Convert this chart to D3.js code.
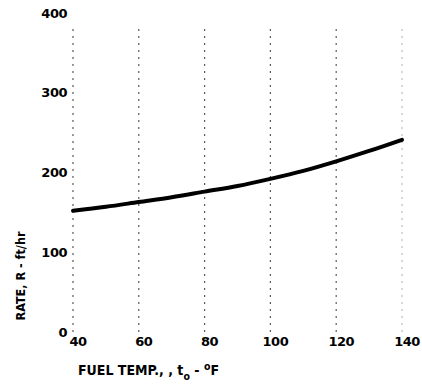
<!DOCTYPE html>
<html>
<head>
<meta charset="utf-8">
<script src="https://cdn.jsdelivr.net/npm/d3@7"></script>
<style>
  body { margin: 0; background: #fff; }
  svg { display: block; }
  text { font-family: "DejaVu Sans", sans-serif; font-weight: bold; fill: #000; }
  .title { font-family: "DejaVu Sans Condensed", "DejaVu Sans", sans-serif; font-stretch: condensed; }
</style>
</head>
<body>
<svg id="chart" width="422" height="385"></svg>
<script>
const temps = [40, 50, 60, 70, 80, 90, 100, 110, 120, 130, 140];
const rates = [152, 157, 163, 169, 176, 183, 192, 202, 214, 227, 241];
const xTicks = [40, 60, 80, 100, 120, 140];
const yTicks = [0, 100, 200, 300, 400];

const svg = d3.select("#chart");
const x = d3.scaleLinear().domain([40, 140]).range([73, 402]);
const y = d3.scaleLinear().domain([0, 400]).range([332, 13]);

// vertical dashed grid lines
svg.append("g").selectAll("line").data(xTicks).join("line")
  .attr("x1", d => x(d)).attr("x2", d => x(d))
  .attr("y1", y(0)).attr("y2", y(385))
  .attr("stroke", "#222")
  .attr("stroke-width", 1.2)
  .attr("stroke-opacity", d => d === 140 ? 0.3 : 0.75)
  .attr("stroke-dasharray", "2,5");

// y tick labels
svg.append("g").selectAll("text").data(yTicks).join("text")
  .attr("x", 67).attr("y", d => y(d))
  .attr("dy", "0.35em")
  .attr("text-anchor", "end")
  .attr("font-size", 13)
  .attr("letter-spacing", "-0.5")
  .text(d => d);

// x tick labels
svg.append("g").selectAll("text").data(xTicks).join("text")
  .attr("x", d => x(d) + 5).attr("y", 346)
  .attr("text-anchor", "middle")
  .attr("font-size", 13)
  .attr("letter-spacing", "-0.5")
  .text(d => d);

// curve
const line = d3.line().x((d, i) => x(temps[i])).y(d => y(d)).curve(d3.curveMonotoneX);
svg.append("path").datum(rates)
  .attr("d", line)
  .attr("fill", "none")
  .attr("stroke", "#000")
  .attr("stroke-width", 4)
  .attr("stroke-linecap", "round");

// axis titles
svg.append("text")
  .attr("class", "title")
  .attr("transform", "translate(25,276) rotate(-90)")
  .attr("text-anchor", "middle")
  .attr("font-size", 12.5)
  .text("RATE, R - ft/hr");

const xt = svg.append("text")
  .attr("class", "title")
  .attr("x", 78).attr("y", 375)
  .attr("font-size", 14);
xt.append("tspan").text("FUEL TEMP., , t");
xt.append("tspan").attr("font-size", 10.5).attr("dy", 5).text("o");
xt.append("tspan").attr("dy", -5).text(" - ");
xt.append("tspan").attr("font-size", 10.5).attr("dy", -5).text("o");
xt.append("tspan").attr("dy", 5).text("F");
</script>
</body>
</html>
